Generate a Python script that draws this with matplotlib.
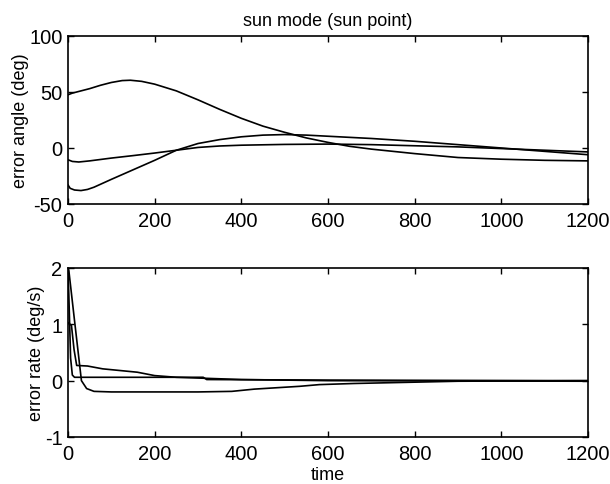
import matplotlib
matplotlib.use("Agg")
import matplotlib.pyplot as plt

plt.rcParams['font.family'] = ['Liberation Sans', 'DejaVu Sans']
plt.rcParams['axes.unicode_minus'] = False

# Top panel: error angle (deg)
ang1_x = [0, 10, 25, 50, 75, 100, 125, 144, 170, 200, 250, 300, 350, 400, 450, 500, 550, 600, 650, 700, 800, 900, 1000, 1100, 1200]
ang1_y = [47.5, 49, 50.5, 53, 56, 58.5, 60.2, 60.5, 59.5, 57, 51, 43, 34.5, 26.5, 19.5, 14, 9, 5, 1.5, -1, -5, -8.5, -10, -11, -11.5]
ang2_x = [0, 5, 15, 30, 45, 60, 80, 100, 150, 200, 250, 300, 350, 400, 450, 500, 550, 600, 700, 800, 900, 1000, 1100, 1200]
ang2_y = [-33, -36, -37.5, -38, -37, -35, -31.5, -28, -19.5, -11, -2, 4, 7.5, 10, 11.5, 12, 11.5, 10.5, 8.5, 6, 3, 0, -3, -6]
ang3_x = [0, 10, 25, 50, 100, 150, 200, 250, 300, 350, 400, 500, 600, 700, 800, 900, 1000, 1100, 1200]
ang3_y = [-10.5, -12, -12.5, -11.5, -9, -6.8, -4.5, -2, 0.5, 1.8, 2.5, 3.2, 3.5, 3, 2, 1, -0.5, -2, -3.5]

# Bottom panel: error rate (deg/s)
rate1_x = [0, 2, 15, 31, 43, 60, 100, 200, 300, 378, 430, 535, 580, 660, 780, 900, 1200]
rate1_y = [2.0, 1.95, 1.07, 0.0, -0.14, -0.19, -0.2, -0.2, -0.2, -0.19, -0.15, -0.1, -0.07, -0.05, -0.03, -0.01, 0.0]
rate2_x = [0, 8, 14, 20, 45, 80, 160, 200, 250, 400, 600, 1200]
rate2_y = [1.03, 0.98, 0.55, 0.27, 0.26, 0.21, 0.15, 0.09, 0.06, 0.02, 0.0, -0.01]
rate3_x = [0, 2, 6, 10, 15, 100, 312, 320, 600, 1200]
rate3_y = [1.95, 1.5, 0.4, 0.1, 0.06, 0.06, 0.06, 0.02, 0.01, 0.0]

xticks = [0, 200, 400, 600, 800, 1000, 1200]
yticks_top = [-50, 0, 50, 100]
yticks_bot = [-1, 0, 1, 2]

fig = plt.figure(figsize=(6.1, 4.85), dpi=100)
ax1 = fig.add_axes([68/610, 1-205/485, 520/610, 168/485])
ax2 = fig.add_axes([68/610, 1-438/485, 520/610, 169/485])

lw = 1.2
for x, y in [(ang1_x, ang1_y), (ang2_x, ang2_y), (ang3_x, ang3_y)]:
    ax1.plot(x, y, color='black', lw=lw)
for x, y in [(rate1_x, rate1_y), (rate2_x, rate2_y), (rate3_x, rate3_y)]:
    ax2.plot(x, y, color='black', lw=lw)

ax1.set_xlim(0, 1200)
ax1.set_ylim(-50, 100)
ax1.set_yticks(yticks_top)
ax2.set_xlim(0, 1200)
ax2.set_ylim(-1, 2)
ax2.set_yticks(yticks_bot)

for ax in (ax1, ax2):
    ax.set_xticks(xticks)
    ax.tick_params(direction='in', top=True, right=True, length=4, width=1, labelsize=14.5)
    ax.tick_params(axis='x', pad=5)
    ax.tick_params(axis='y', pad=4)
    for s in ax.spines.values():
        s.set_linewidth(1.2)

ax1.set_title('sun mode (sun point)', fontsize=13, pad=8)
ax1.set_ylabel('error angle (deg)', fontsize=13, labelpad=0)
ax2.set_ylabel('error rate (deg/s)', fontsize=13, labelpad=0)
ax2.set_xlabel('time', fontsize=13, labelpad=2)

fig.savefig('out.png', dpi=100)
